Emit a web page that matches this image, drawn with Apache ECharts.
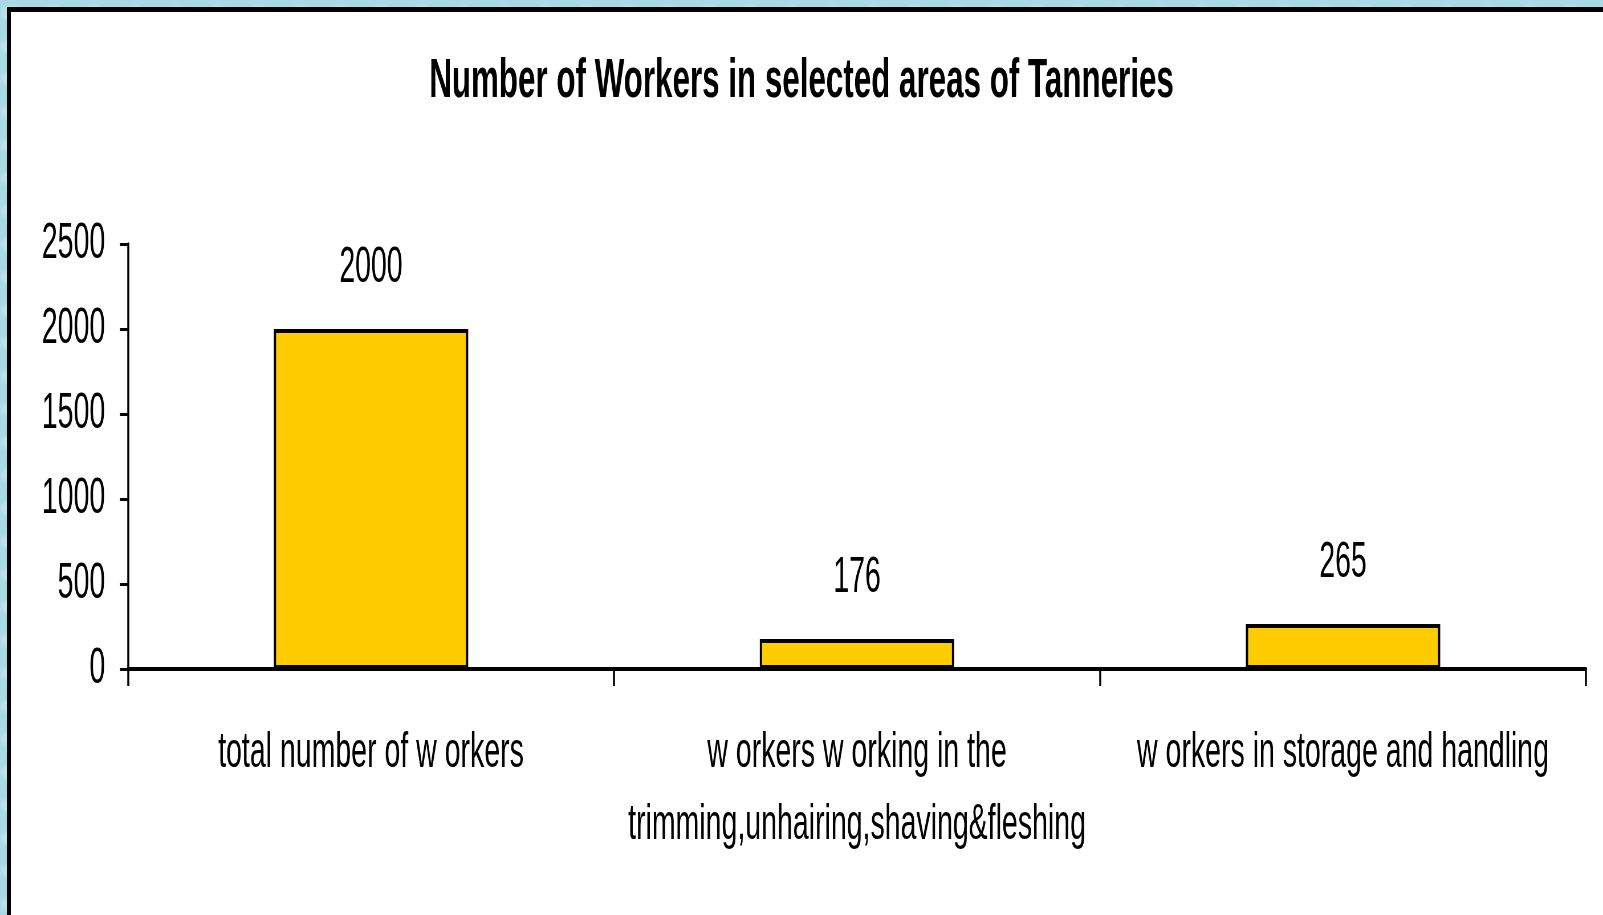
<!DOCTYPE html>
<html>
<head>
<meta charset="utf-8">
<script src="https://cdn.jsdelivr.net/npm/echarts@6/dist/echarts.min.js"></script>
<style>
  html, body { margin: 0; padding: 0; overflow: hidden; }
  body {
    width: 1603px; height: 915px; position: relative;
    background-color: #a9d9e2;
    background-image:
      radial-gradient(ellipse at 30% 40%, rgba(255,255,255,0.25) 0 8px, transparent 14px),
      radial-gradient(ellipse at 70% 70%, rgba(90,165,180,0.22) 0 7px, transparent 12px);
    background-size: 41px 33px, 37px 45px;
  }
  .panel {
    position: absolute; left: 7px; top: 7px; width: 1610px; height: 920px;
    background: #fff; border-left: 4px solid #000; border-top: 5px solid #000;
  }
  /* chart is laid out wider and squeezed back, to get the condensed lettering */
  #chart {
    position: absolute; left: 0; top: 0; width: 2812px; height: 915px;
    transform: scaleX(0.57006); transform-origin: 0 0;
  }
</style>
</head>
<body>
<div class="panel"></div>
<div id="chart"></div>
<script>
const categories = [
  "total number of w orkers",
  "w orkers w orking in the\ntrimming,unhairing,shaving&fleshing",
  "w orkers in storage and handling"
];
const workers = [2000, 176, 265];
const yTicks = { min: 0, max: 2500, step: 500 };

const sx = 0.57006; // horizontal squeeze applied by css
const font = '"Liberation Sans", Arial, sans-serif';

const chart = echarts.init(document.getElementById('chart'));
const option = {
  animation: false,
  backgroundColor: 'transparent',
  title: {
    text: 'Number of Workers in selected areas of Tanneries',
    left: 'center',
    top: 49,
    textStyle: { fontFamily: font, fontSize: 55, fontWeight: 'bold', color: '#000' }
  },
  grid: {
    left: 128 / sx,
    right: 17 / sx,
    top: 244,
    bottom: 915 - 669
  },
  xAxis: {
    type: 'category',
    data: categories,
    axisLine: { lineStyle: { color: '#000', width: 4 } },
    axisTick: { show: true, length: 17, lineStyle: { color: '#000', width: 2 / sx } },
    axisLabel: {
      interval: 0,
      margin: 48,
      fontFamily: font,
      fontSize: 50,
      lineHeight: 72,
      color: '#000'
    }
  },
  yAxis: {
    type: 'value',
    min: yTicks.min,
    max: yTicks.max,
    interval: yTicks.step,
    splitLine: { show: false },
    axisLine: { show: true, lineStyle: { color: '#000', width: 2 / sx } },
    axisTick: { show: true, length: 8 / sx, lineStyle: { color: '#000', width: 3 } },
    axisLabel: {
      margin: 40, fontFamily: font, fontSize: 50, color: '#000',
      formatter: (v) => String(v)
    }
  },
  series: [{
    type: 'bar',
    data: workers,
    barWidth: '40%',
    itemStyle: { color: '#ffcc00', borderColor: '#000', borderWidth: 4 },
    label: {
      show: true,
      position: 'top',
      distance: 36,
      fontFamily: font,
      fontSize: 50,
      color: '#000'
    }
  }]
};
chart.setOption(option);
</script>
</body>
</html>
